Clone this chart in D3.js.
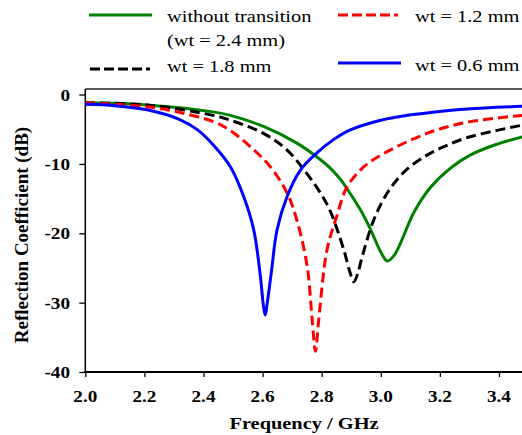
<!DOCTYPE html>
<html>
<head>
<meta charset="utf-8">
<script src="https://cdn.jsdelivr.net/npm/d3@7"></script>
<style>
  body { margin: 0; background: #fff; }
  text { font-family: "Liberation Serif", "Times New Roman", serif; fill: #000; }
</style>
</head>
<body>
<div id="chart"></div>
<script>
// values
var xTicks = [2.0, 2.2, 2.4, 2.6, 2.8, 3.0, 3.2, 3.4];
var yTicks = [0, -10, -20, -30, -40];

var greenFreq = [2.000, 2.208, 2.433, 2.491, 2.603, 2.716, 2.784, 2.829, 2.863, 2.897, 2.935, 2.965, 3.000, 3.022, 3.045, 3.067, 3.112, 3.168, 3.236, 3.304, 3.390, 3.480];
var greenDb   = [-1.2, -1.5, -2.5, -3.0, -4.6, -7.0, -9.0, -10.6, -12.2, -14.3, -16.9, -19.4, -22.7, -24.0, -23.2, -21.4, -17.0, -13.4, -10.6, -8.7, -7.2, -6.1];

var blackFreq = [2.000, 2.208, 2.433, 2.491, 2.603, 2.683, 2.750, 2.796, 2.829, 2.875, 2.895, 2.909, 2.922, 2.937, 2.976, 3.022, 3.078, 3.146, 3.214, 3.293, 3.390, 3.480];
var blackDb   = [-1.2, -1.5, -3.0, -3.7, -5.6, -8.0, -11.4, -14.2, -16.8, -22.4, -25.5, -27.0, -25.8, -23.4, -18.1, -14.2, -11.2, -9.0, -7.5, -6.2, -5.2, -4.4];

var redFreq = [2.000, 2.208, 2.321, 2.433, 2.491, 2.558, 2.626, 2.683, 2.716, 2.751, 2.767, 2.779, 2.790, 2.818, 2.852, 2.886, 2.943, 3.010, 3.100, 3.190, 3.304, 3.480];
var redDb   = [-1.2, -1.75, -2.6, -3.9, -5.2, -7.5, -10.4, -14.2, -18.1, -24.8, -32.0, -37.0, -32.5, -22.4, -17.4, -13.3, -10.4, -8.5, -6.6, -5.1, -3.9, -3.0];

var blueFreq = [2.000, 2.100, 2.208, 2.320, 2.380, 2.434, 2.491, 2.536, 2.570, 2.592, 2.603, 2.609, 2.616, 2.630, 2.649, 2.683, 2.728, 2.784, 2.840, 2.897, 3.000, 3.089, 3.168, 3.293, 3.480];
var blueDb   = [-1.4, -1.6, -2.2, -3.6, -5.1, -7.3, -10.4, -14.7, -19.5, -26.0, -30.5, -31.8, -30.0, -25.5, -19.5, -14.7, -10.9, -8.4, -6.5, -5.1, -3.7, -3.0, -2.6, -2.1, -1.7];

var seriesNames = ["without transition", "wt = 1.2 mm", "wt = 1.8 mm", "wt = 0.6 mm"];
var seriesColors = ["#008000", "#ff0000", "#000000", "#0000ff"];

var W = 522, H = 435;
// plot box (don't call it "top", window.top is read only)
var pLeft = 85.3, pRight = 522, pTop = 89, pBottom = 372;
var sx = 1.2; // text in the source is drawn a bit wide

var svg = d3.select('#chart').append('svg')
    .attr('width', W).attr('height', H);

var x = d3.scaleLinear().domain([2.0, 3.478]).range([pLeft, pRight]);
var y = d3.scaleLinear().domain([-40, 0.8]).range([pBottom, pTop]);

// helper for wide text
function wideText(g, tx, ty, str, opts) {
    var t = g.append('g').attr('transform', 'translate(' + tx + ',' + ty + ') scale(' + sx + ',1)')
        .append('text')
        .attr('text-anchor', opts.anchor || 'start')
        .style('font-size', opts.size + 'px')
        .style('font-weight', opts.weight || 'normal')
        .text(str);
    return t;
}

svg.append('clipPath').attr('id', 'plotclip')
    .append('rect').attr('x', pLeft).attr('y', pTop).attr('width', pRight - pLeft).attr('height', pBottom - pTop);

// axes
var xAxis = svg.append('g').attr('transform', 'translate(0,' + pBottom + ')')
    .call(d3.axisBottom(x).tickValues(xTicks).tickSize(5).tickFormat(''));
xAxis.select('.domain').remove();
xAxis.selectAll('line').attr('stroke', '#000').attr('stroke-width', 1.3);

var yAxis = svg.append('g').attr('transform', 'translate(' + pLeft + ',0)')
    .call(d3.axisLeft(y).tickValues(yTicks).tickSize(6).tickFormat(''));
yAxis.select('.domain').remove();
yAxis.selectAll('line').attr('stroke', '#000').attr('stroke-width', 1.3);

svg.append('line').attr('x1', pLeft).attr('x2', pLeft).attr('y1', pTop).attr('y2', pBottom + 1)
    .attr('stroke', '#000').attr('stroke-width', 1.5);
svg.append('line').attr('x1', pLeft - 1).attr('x2', pRight).attr('y1', pBottom).attr('y2', pBottom)
    .attr('stroke', '#000').attr('stroke-width', 2);
svg.append('line').attr('x1', pLeft).attr('x2', pRight).attr('y1', pTop).attr('y2', pTop)
    .attr('stroke', '#222').attr('stroke-width', 1.6);

// tick labels
xTicks.forEach(function (v) {
    wideText(svg, x(v), 401.5, v.toFixed(1), {size: 16, weight: 'bold', anchor: 'middle'});
});
yTicks.forEach(function (v) {
    wideText(svg, 70, y(v) + 6, String(v), {size: 16, weight: 'bold', anchor: 'end'});
});

// axis titles
wideText(svg, 304, 429, 'Frequency / GHz', {size: 17, weight: 'bold', anchor: 'middle'});
svg.append('text')
    .attr('transform', 'translate(28,235) rotate(-90)')
    .attr('text-anchor', 'middle')
    .style('font-size', '19px').style('font-weight', 'bold')
    .text('Reflection Coefficient (dB)');

// curves
var line = d3.line()
    .x(function (d) { return x(d[0]); })
    .y(function (d) { return y(d[1]); })
    .curve(d3.curveCatmullRom.alpha(0.5));

var plot = svg.append('g').attr('clip-path', 'url(#plotclip)');

function drawCurve(freq, db, color, dash) {
    var pts = d3.zip(freq, db);
    plot.append('path')
        .datum(pts)
        .attr('d', line)
        .attr('fill', 'none')
        .attr('stroke', color)
        .attr('stroke-width', 3)
        .attr('stroke-dasharray', dash);
}

drawCurve(greenFreq, greenDb, seriesColors[0], null);
drawCurve(blackFreq, blackDb, seriesColors[2], '10,5');
drawCurve(redFreq, redDb, seriesColors[1], '10,5');
drawCurve(blueFreq, blueDb, seriesColors[3], null);

// legend
var leg = svg.append('g');
function legLine(x1, x2, ly, color, dash) {
    leg.append('line').attr('x1', x1).attr('x2', x2).attr('y1', ly).attr('y2', ly)
        .attr('stroke', color).attr('stroke-width', 3).attr('stroke-dasharray', dash);
}
legLine(89, 152, 15, seriesColors[0], null);
legLine(338, 398, 15, seriesColors[1], '10,4');
legLine(90, 150, 69, seriesColors[2], '10,4');
legLine(338, 401, 63, seriesColors[3], null);

wideText(leg, 167, 21.5, seriesNames[0], {size: 17});
wideText(leg, 167, 46, '(wt = 2.4 mm)', {size: 17});
wideText(leg, 167, 71.5, seriesNames[2], {size: 17});
wideText(leg, 415, 21.5, seriesNames[1], {size: 17});
wideText(leg, 415, 70.5, seriesNames[3], {size: 17});
</script>
</body>
</html>
